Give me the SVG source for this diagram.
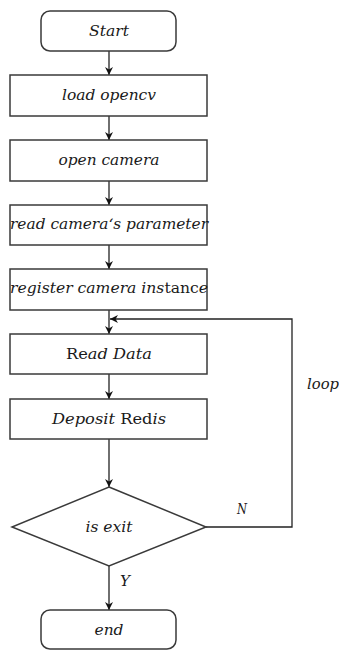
<svg xmlns="http://www.w3.org/2000/svg" width="339" height="650" viewBox="0 0 339 650">
<style>
.box{fill:#fff;stroke:#3a3a3a;stroke-width:1.5}
.t{font-family:"DejaVu Serif","Liberation Serif",serif;font-size:15px;font-style:italic;fill:#1a1a1a;text-anchor:middle}
.u{font-style:normal}
.c{fill:none;stroke:#222;stroke-width:1.3}
</style>
<defs>
<marker id="ah" viewBox="0 0 10 10" refX="10" refY="5" markerWidth="8" markerHeight="8" markerUnits="userSpaceOnUse" orient="auto">
<path d="M0,0 L10,5 L0,10 L3,5 Z" fill="#111"/>
</marker>
</defs>
<rect width="339" height="650" fill="#fff"/>
<g id="connectors">
<line class="c" x1="109" y1="51" x2="109" y2="75" marker-end="url(#ah)"/>
<line class="c" x1="109" y1="116" x2="109" y2="140" marker-end="url(#ah)"/>
<line class="c" x1="109" y1="181" x2="109" y2="205" marker-end="url(#ah)"/>
<line class="c" x1="109" y1="245" x2="109" y2="269" marker-end="url(#ah)"/>
<line class="c" x1="109" y1="310" x2="109" y2="334" marker-end="url(#ah)"/>
<line class="c" x1="109" y1="374" x2="109" y2="399" marker-end="url(#ah)"/>
<line class="c" x1="109" y1="439" x2="109" y2="487" marker-end="url(#ah)"/>
<line class="c" x1="109" y1="566" x2="109" y2="610" marker-end="url(#ah)"/>
<polyline class="c" points="206,527 292,527 292,319 110,319" marker-end="url(#ah)"/>
<text class="t" x="242" y="514" textLength="10" lengthAdjust="spacingAndGlyphs">N</text>
<text class="t" x="125" y="586" textLength="10" lengthAdjust="spacingAndGlyphs">Y</text>
<text class="t" x="323" y="389" textLength="32" lengthAdjust="spacingAndGlyphs">loop</text>
</g>
<g id="start">
<rect class="box" x="41" y="11" width="135" height="40" rx="9"/>
<text class="t" x="109" y="36" textLength="40" lengthAdjust="spacingAndGlyphs">Start</text>
</g>
<g id="load-opencv">
<rect class="box" x="10" y="75" width="197" height="41"/>
<text class="t" x="109" y="100" textLength="94" lengthAdjust="spacingAndGlyphs">load opencv</text>
</g>
<g id="open-camera">
<rect class="box" x="10" y="140" width="197" height="41"/>
<text class="t" x="109" y="165" textLength="101" lengthAdjust="spacingAndGlyphs">open camera</text>
</g>
<g id="read-param">
<rect class="box" x="10" y="205" width="197" height="40"/>
<text class="t" x="109" y="229" textLength="198" lengthAdjust="spacingAndGlyphs">read camera‘s parameter</text>
</g>
<g id="register">
<rect class="box" x="10" y="269" width="197" height="41"/>
<text class="t" x="109" y="293" textLength="198" lengthAdjust="spacingAndGlyphs">register camera ins<tspan class="u">tanc</tspan>e</text>
</g>
<g id="read-data">
<rect class="box" x="10" y="334" width="197" height="40"/>
<text class="t" x="109" y="359" textLength="86" lengthAdjust="spacingAndGlyphs"><tspan class="u">Re</tspan>ad Data</text>
</g>
<g id="deposit">
<rect class="box" x="10" y="399" width="197" height="40"/>
<text class="t" x="109" y="424" textLength="114" lengthAdjust="spacingAndGlyphs">Deposit <tspan class="u">Red</tspan>is</text>
</g>
<g id="is-exit">
<polygon class="box" points="109,487 206,527 109,566 12,527"/>
<text class="t" x="109" y="532" textLength="47" lengthAdjust="spacingAndGlyphs">is exit</text>
</g>
<g id="end">
<rect class="box" x="41" y="610" width="135" height="39" rx="9"/>
<text class="t" x="109" y="635" textLength="29" lengthAdjust="spacingAndGlyphs">end</text>
</g>
</svg>
